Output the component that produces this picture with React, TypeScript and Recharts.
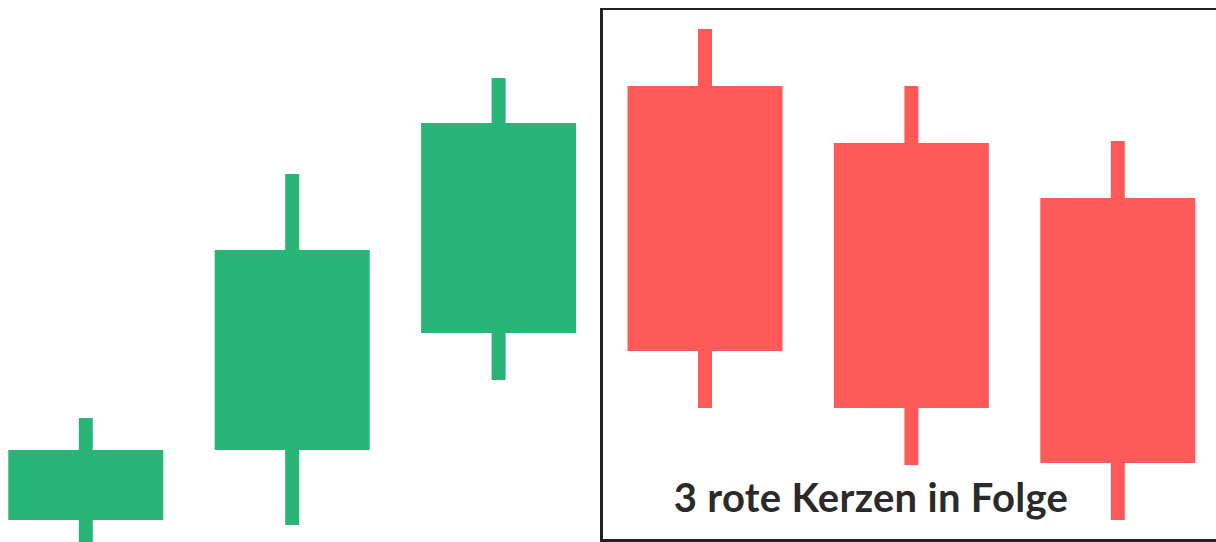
import React from "react";
import { Bar, ComposedChart, XAxis, YAxis } from "recharts";

// prices (arbitrary units, 0 = bottom edge)
const labels = ["1", "2", "3", "4", "5", "6"];
const opens = [22, 92, 209, 456, 399, 344];
const closes = [92, 292, 419, 191, 134, 79];
const highs = [124, 368, 464, 513, 456, 401];
const lows = [0, 17, 162, 134, 77, 22];

const GREEN = "#29b577";
const RED = "#ff5a5a";

const data = labels.map((name, i) => ({
  name,
  open: opens[i],
  close: closes[i],
  high: highs[i],
  low: lows[i],
  range: [lows[i], highs[i]],
}));

const Candle = (props: any) => {
  const { x, y, width, height, payload } = props;
  const { open, close, high, low } = payload;
  const up = close >= open;
  const color = up ? GREEN : RED;
  const ratio = height / (high - low);
  const yOf = (v: number) => y + (high - v) * ratio;
  const bodyTop = yOf(Math.max(open, close));
  const bodyBottom = yOf(Math.min(open, close));
  const cx = x + width / 2;
  const wick = 14;
  return (
    <g>
      <rect x={cx - wick / 2} y={y} width={wick} height={height} fill={color} />
      <rect x={x} y={bodyTop} width={width} height={bodyBottom - bodyTop} fill={color} />
    </g>
  );
};

export default function App() {
  return (
    <div
      style={{
        position: "relative",
        width: 1208,
        height: 534,
        overflow: "hidden",
      }}
    >
      <style>{"body{margin:0;padding:8px 0 0 8px;overflow:hidden}"}</style>
      <ComposedChart
        width={1208}
        height={534}
        data={data}
        margin={{ top: 0, right: -4.7, bottom: 0, left: -25.7 }}
      >
        <XAxis dataKey="name" hide />
        <YAxis hide domain={[0, 534]} type="number" />
        <Bar dataKey="range" barSize={155} shape={<Candle />} isAnimationActive={false} />
      </ComposedChart>
      <div
        style={{
          position: "absolute",
          left: 592,
          top: -1,
          width: 640,
          height: 535,
          border: "3.5px solid #222",
          borderRight: "none",
          boxSizing: "border-box",
          pointerEvents: "none",
        }}
      />
      <div
        style={{
          position: "absolute",
          left: 613,
          top: 465,
          width: 500,
          textAlign: "center",
          fontFamily: "Lato",
          fontWeight: 700,
          fontSize: 40,
          letterSpacing: 0.3,
          color: "#2a2a2a",
          whiteSpace: "nowrap",
        }}
      >
        3 rote Kerzen in Folge
      </div>
    </div>
  );
}
